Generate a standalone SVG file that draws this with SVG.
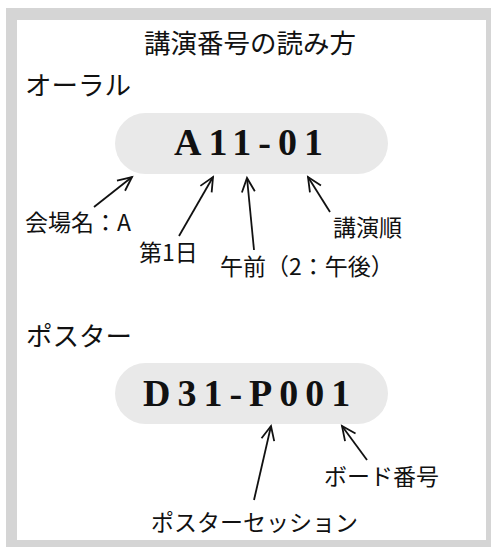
<svg xmlns="http://www.w3.org/2000/svg" width="491" height="547" viewBox="0 0 491 547">
<defs>
<style>
.jp{font-family:"Noto Sans CJK JP","Noto Sans",sans-serif;fill:#111}
.h{font-size:26.5px}
.lb{font-size:23px}
.code{font-family:"Liberation Serif","Times New Roman",serif;font-weight:bold;font-size:38px;letter-spacing:7px;fill:#111}
.pill{fill:#e9e9e9}
.arrow{stroke:#111;stroke-width:1.8;fill:none;marker-end:url(#ah)}
</style>
<marker id="ah" viewBox="-2 -9 19 18" refX="14" refY="0" markerWidth="19" markerHeight="18" markerUnits="userSpaceOnUse" orient="auto">
<path d="M0,-6.5 L14,0 L0,6.5" fill="none" stroke="#111" stroke-width="1.8"/>
</marker>
</defs>
<g id="frame">
<rect x="6" y="8" width="485" height="539" fill="#d5d5d5"/>
<rect x="17" y="20" width="469" height="520" fill="#ffffff"/>
</g>
<g id="title"><text class="jp h" x="144" y="53">講演番号の読み方</text></g>
<g id="oral-heading"><text class="jp h" x="25" y="95">オーラル</text></g>
<g id="oral-code">
<rect class="pill" x="115" y="113" width="273" height="61" rx="30.5"/>
<text class="code" x="174" y="155">A11-01</text>
</g>
<g id="label-venue"><text class="jp lb" x="25" y="231">会場名：A</text></g>
<g id="label-day"><text class="jp lb" x="139" y="261">第1日</text></g>
<g id="label-ampm"><text class="jp lb" x="220" y="275">午前（2：午後）</text></g>
<g id="label-order"><text class="jp lb" x="333" y="236">講演順</text></g>
<g id="poster-heading"><text class="jp h" x="26" y="346">ポスター</text></g>
<g id="poster-code">
<rect class="pill" x="115" y="363" width="273" height="61" rx="30.5"/>
<text class="code" x="143" y="406">D31-P001</text>
</g>
<g id="label-board"><text class="jp lb" x="324" y="485">ボード番号</text></g>
<g id="label-session"><text class="jp lb" x="151" y="531">ポスターセッション</text></g>
<g id="connectors">
<line class="arrow" x1="94" y1="207" x2="132" y2="177"/>
<line class="arrow" x1="179" y1="236" x2="213" y2="177"/>
<line class="arrow" x1="254" y1="250" x2="247" y2="178"/>
<line class="arrow" x1="330" y1="212" x2="308" y2="177"/>
<line class="arrow" x1="254" y1="500" x2="271" y2="426"/>
<line class="arrow" x1="367" y1="460" x2="342" y2="426"/>
</g>
</svg>
